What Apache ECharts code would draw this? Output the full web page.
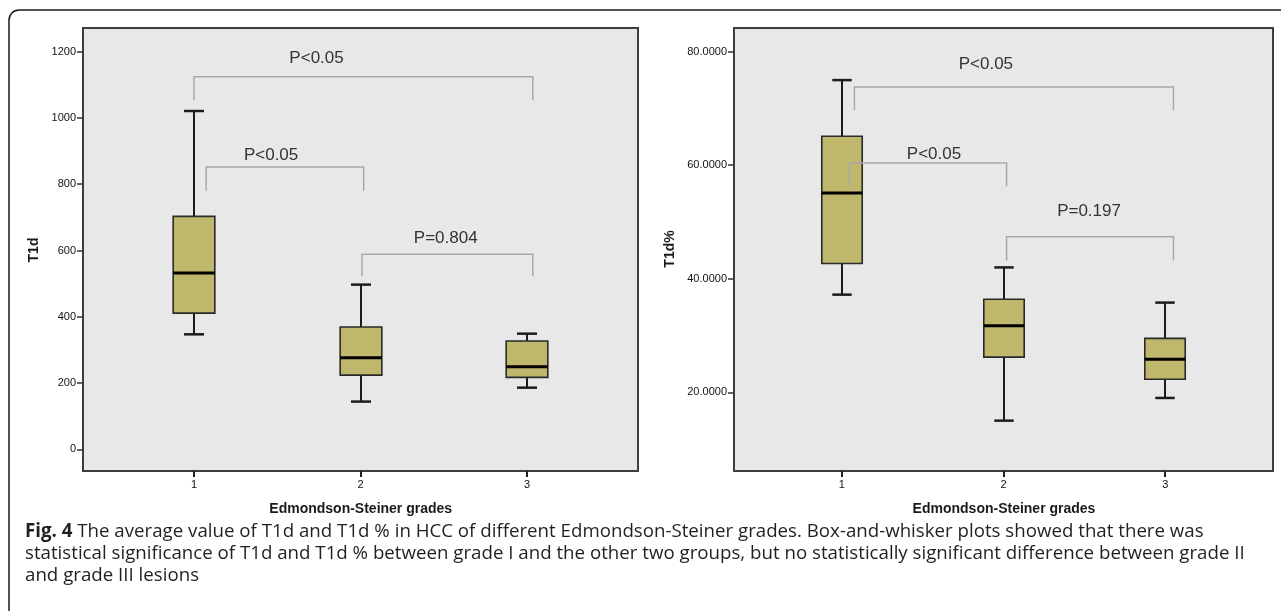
<!DOCTYPE html>
<html>
<head>
<meta charset="utf-8">
<script src="https://cdn.jsdelivr.net/npm/echarts@6/dist/echarts.min.js"></script>
<style>
  html, body { margin: 0; padding: 0; background: #ffffff; }
  #chart { width: 1281px; height: 611px; }
</style>
</head>
<body>
<div id="chart"></div>
<script>
// ---- Data ----
const categories = [1, 2, 3];

// Left panel: T1d
const t1dMin    = [347, 144, 186];
const t1dQ1     = [411, 224, 217];
const t1dMedian = [532, 276, 249];
const t1dQ3     = [703, 369, 327];
const t1dMax    = [1021, 497, 349];

// Right panel: T1d%
const pctMin    = [37.2, 15.0, 19.0];
const pctQ1     = [42.7, 26.2, 22.3];
const pctMedian = [55.1, 31.7, 25.8];
const pctQ3     = [65.1, 36.4, 29.5];
const pctMax    = [75.0, 42.0, 35.8];

// Tick labels
const leftTicks  = [0, 200, 400, 600, 800, 1000, 1200];
const rightTicks = [20, 40, 60, 80];

// Significance brackets (data units): from x, to x, top level, leg end, label
const leftBracketFrom  = [1.0, 1.073, 2.009];
const leftBracketTo    = [3.035, 2.019, 3.035];
const leftBracketTop   = [1124, 852, 589];
const leftBracketLeg   = [1054, 780, 523];
const leftLabelX       = [1.736, 1.463, 2.512];
const leftLabelY       = [1181, 888, 638];
const leftLabels       = ['P<0.05', 'P<0.05', 'P=0.804'];

const rightBracketFrom = [1.078, 1.048, 2.019];
const rightBracketTo   = [3.051, 2.019, 3.051];
const rightBracketTop  = [73.8, 60.4, 47.4];
const rightBracketLeg  = [69.7, 56.3, 43.2];
const rightLabelX      = [1.891, 1.570, 2.529];
const rightLabelY      = [77.8, 62.0, 51.9];
const rightLabels      = ['P<0.05', 'P<0.05', 'P=0.197'];

const xTitle = 'Edmondson-Steiner grades';
const captionLines = [
  'The average value of T1d and T1d % in HCC of different Edmondson-Steiner grades. Box-and-whisker plots showed that there was',
  'statistical significance of T1d and T1d % between grade I and the other two groups, but no statistically significant difference between grade II',
  'and grade III lesions'
];

// ---- Build ----
function boxRows(mins, q1s, meds, q3s, maxs) {
  return categories.map((c, i) => [c, mins[i], q1s[i], meds[i], q3s[i], maxs[i]]);
}
function bracketRows(from, to, top, leg, lx, ly) {
  return from.map((f, i) => [f, to[i], top[i], leg[i], lx[i], ly[i]]);
}

const BOX_FILL = '#bfb76b';
const INK = '#1c1c1c';

function renderBox(params, api) {
  const x = api.value(0);
  const lo = api.value(1), q1 = api.value(2), md = api.value(3), q3 = api.value(4), hi = api.value(5);
  const bw = api.size([0.25, 0])[0];
  const cw = api.size([0.12, 0])[0];
  const pHi = api.coord([x, hi]);
  const pQ3 = api.coord([x, q3]);
  const pMd = api.coord([x, md]);
  const pQ1 = api.coord([x, q1]);
  const pLo = api.coord([x, lo]);
  const cx = Math.round(pHi[0]);
  const cs = params.coordSys;
  const axisY = cs.y + cs.height;
  return {
    type: 'group',
    children: [
      // category tick below the plot frame
      { type: 'rect', shape: { x: cx - 1, y: axisY, width: 2, height: 6 }, style: { fill: '#222' } },
      { type: 'line', shape: { x1: cx, y1: pHi[1], x2: cx, y2: pQ3[1] }, style: { stroke: INK, lineWidth: 2 } },
      { type: 'line', shape: { x1: cx, y1: pQ1[1], x2: cx, y2: pLo[1] }, style: { stroke: INK, lineWidth: 2 } },
      { type: 'line', shape: { x1: cx - cw / 2, y1: pHi[1], x2: cx + cw / 2, y2: pHi[1] }, style: { stroke: INK, lineWidth: 2.5 } },
      { type: 'line', shape: { x1: cx - cw / 2, y1: pLo[1], x2: cx + cw / 2, y2: pLo[1] }, style: { stroke: INK, lineWidth: 2.5 } },
      { type: 'rect', shape: { x: cx - bw / 2, y: pQ3[1], width: bw, height: pQ1[1] - pQ3[1] },
        style: { fill: BOX_FILL, stroke: '#2a2a2a', lineWidth: 1.6 } },
      { type: 'line', shape: { x1: cx - bw / 2, y1: pMd[1], x2: cx + bw / 2, y2: pMd[1] }, style: { stroke: '#000', lineWidth: 3 } }
    ]
  };
}

function makeBracketRenderer(labels) {
  return function (params, api) {
    const x1 = api.value(0), x2 = api.value(1), top = api.value(2), leg = api.value(3);
    const lx = api.value(4), ly = api.value(5);
    const a = api.coord([x1, leg]);
    const b = api.coord([x1, top]);
    const c = api.coord([x2, top]);
    const d = api.coord([x2, leg]);
    const t = api.coord([lx, ly]);
    return {
      type: 'group',
      children: [
        { type: 'polyline', shape: { points: [a, b, c, d] }, style: { stroke: '#a8a8a8', lineWidth: 1.5, fill: null } },
        { type: 'text', x: t[0], y: t[1],
          style: { text: labels[params.dataIndex], fill: '#333', fontFamily: 'Liberation Sans, Arial, sans-serif',
                   fontSize: 17, align: 'center', verticalAlign: 'middle' } }
      ]
    };
  };
}

const tickFont = { fontFamily: 'Liberation Sans, Arial, sans-serif', fontSize: 11, color: '#111' };

function xAxisCfg(gridIndex) {
  return {
    type: 'value', gridIndex: gridIndex, min: 1 / 3, max: 11 / 3, position: 'bottom',
    axisLine: { show: true, onZero: false, lineStyle: { color: '#3d3d3d', width: 2 } },
    splitLine: { show: false },
    axisTick: { show: true, inside: false, length: 6, customValues: categories, lineStyle: { color: '#222', width: 2 } },
    axisLabel: Object.assign({ show: true, margin: 8, customValues: categories, formatter: v => String(v) }, tickFont)
  };
}
function yAxisCfg(gridIndex, min, max, ticks, fmt) {
  return {
    type: 'value', gridIndex: gridIndex, min: min, max: max, position: 'left',
    axisLine: { show: true, onZero: false, lineStyle: { color: '#3d3d3d', width: 2 } },
    splitLine: { show: false },
    axisTick: { show: true, inside: false, length: 6, customValues: ticks, lineStyle: { color: '#333', width: 1.5 } },
    axisLabel: Object.assign({ show: true, margin: 7, customValues: ticks, formatter: fmt }, tickFont)
  };
}

const titleFont = { fontFamily: 'Liberation Sans, Arial, sans-serif', fontSize: 14, fontWeight: 'bold', fill: '#1a1a1a' };
const capFont = 'Open Sans, sans-serif';
const capSize = 18.7;

const option = {
  animation: false,
  backgroundColor: '#ffffff',
  grid: [
    { left: 83, top: 28, width: 555, height: 443, show: true, backgroundColor: '#e8e8e8', borderColor: '#3d3d3d', borderWidth: 2 },
    { left: 734, top: 28, width: 539, height: 443, show: true, backgroundColor: '#e8e8e8', borderColor: '#3d3d3d', borderWidth: 2 }
  ],
  xAxis: [xAxisCfg(0), xAxisCfg(1)],
  yAxis: [
    yAxisCfg(0, -65.5, 1271.5, leftTicks, v => String(v)),
    yAxisCfg(1, 6.13, 84.18, rightTicks, v => v.toFixed(4))
  ],
  series: [
    { type: 'custom', xAxisIndex: 0, yAxisIndex: 0, renderItem: renderBox, clip: false,
      data: boxRows(t1dMin, t1dQ1, t1dMedian, t1dQ3, t1dMax), encode: { x: 0, y: [1, 2, 3, 4, 5] }, z: 2 },
    { type: 'custom', xAxisIndex: 1, yAxisIndex: 1, renderItem: renderBox, clip: false,
      data: boxRows(pctMin, pctQ1, pctMedian, pctQ3, pctMax), encode: { x: 0, y: [1, 2, 3, 4, 5] }, z: 2 },
    { type: 'custom', xAxisIndex: 0, yAxisIndex: 0, renderItem: makeBracketRenderer(leftLabels),
      data: bracketRows(leftBracketFrom, leftBracketTo, leftBracketTop, leftBracketLeg, leftLabelX, leftLabelY),
      encode: { x: [0, 1], y: [2, 3] }, z: 3 },
    { type: 'custom', xAxisIndex: 1, yAxisIndex: 1, renderItem: makeBracketRenderer(rightLabels),
      data: bracketRows(rightBracketFrom, rightBracketTo, rightBracketTop, rightBracketLeg, rightLabelX, rightLabelY),
      encode: { x: [0, 1], y: [2, 3] }, z: 3 }
  ],
  graphic: [
    { type: 'rect', shape: { x: 9, y: 10, width: 1400, height: 800, r: 10 },
      style: { fill: 'none', stroke: '#1a1a1a', lineWidth: 1.5 }, silent: true, z: 10 },
    { type: 'text', x: 34.5, y: 250, rotation: Math.PI / 2,
      style: Object.assign({ text: 'T1d', align: 'center', verticalAlign: 'middle' }, titleFont) },
    { type: 'text', x: 670.5, y: 249, rotation: Math.PI / 2,
      style: Object.assign({ text: 'T1d%', align: 'center', verticalAlign: 'middle' }, titleFont) },
    { type: 'text', x: 360.7, y: 509,
      style: Object.assign({ text: xTitle, align: 'center', verticalAlign: 'middle' }, titleFont) },
    { type: 'text', x: 1004, y: 509,
      style: Object.assign({ text: xTitle, align: 'center', verticalAlign: 'middle' }, titleFont) },
    { type: 'text', x: 25, y: 532,
      style: { text: '{b|Fig. 4} ' + captionLines[0], fontFamily: capFont, fontSize: capSize, fill: '#231f20',
               verticalAlign: 'middle', rich: { b: { fontWeight: 'bold', fontFamily: capFont, fontSize: capSize, fill: '#231f20' } } } },
    { type: 'text', x: 25, y: 554,
      style: { text: captionLines[1], fontFamily: capFont, fontSize: capSize, fill: '#231f20', verticalAlign: 'middle' } },
    { type: 'text', x: 25, y: 576,
      style: { text: captionLines[2], fontFamily: capFont, fontSize: capSize, fill: '#231f20', verticalAlign: 'middle' } }
  ]
};

const chart = echarts.init(document.getElementById('chart'), null, { renderer: 'canvas' });
chart.setOption(option);
</script>
</body>
</html>
